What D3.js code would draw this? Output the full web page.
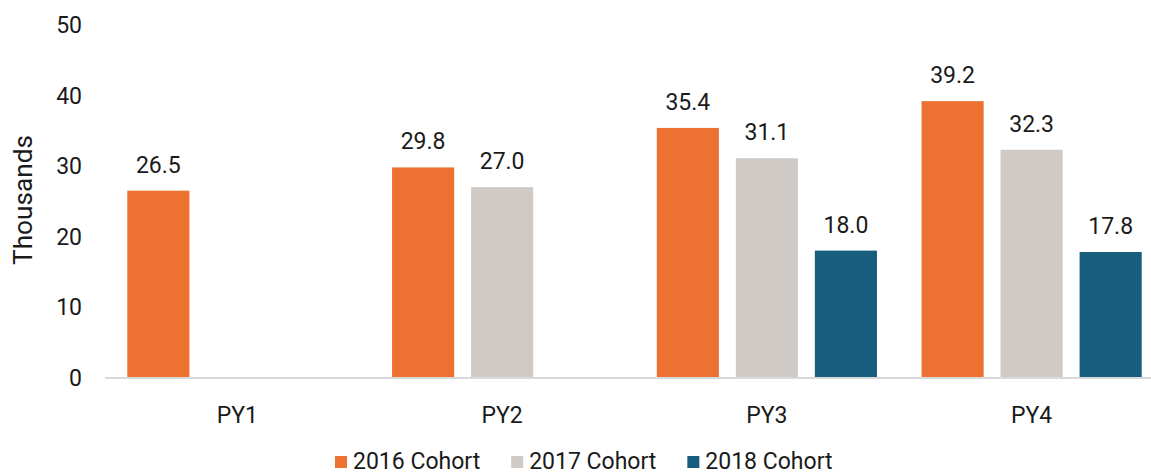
<!DOCTYPE html>
<html>
<head>
<meta charset="utf-8">
<script src="https://cdn.jsdelivr.net/npm/d3@7"></script>
<style>
  body { margin: 0; background: #fff; }
  text { font-family: Roboto, "Noto Sans", sans-serif; fill: #1a1a1a; }
</style>
</head>
<body>
<div id="chart"></div>
<script>
// data (thousands)
var categories = ["PY1", "PY2", "PY3", "PY4"];
var cohorts = ["2016 Cohort", "2017 Cohort", "2018 Cohort"];
var cohort2016 = [26.5, 29.8, 35.4, 39.2];
var cohort2017 = [null, 27.0, 31.1, 32.3];
var cohort2018 = [null, null, 18.0, 17.8];
var yTicks = [0, 10, 20, 30, 40, 50];

var colors = ["#ED7232", "#CFCAC6", "#175E7E"];

var width = 1151,
    height = 472,
    fontSize = 23;

var series = [cohort2016, cohort2017, cohort2018];

var rows = [];
categories.forEach(function(c, i) {
    cohorts.forEach(function(k, j) {
        if (series[j][i] != null) {
            rows.push({ cat: c, cohort: k, value: series[j][i], idx: j });
        }
    });
});

var svg = d3.select("#chart").append("svg")
    .attr("width", width)
    .attr("height", height);

var x0 = d3.scaleBand()
    .domain(categories)
    .range([105, 1164])
    .padding(0);

var x1 = d3.scaleBand()
    .domain(cohorts)
    .range([22.3, x0.bandwidth() - 22.3])
    .paddingInner(0.214)
    .paddingOuter(0);

var y = d3.scaleLinear()
    .domain([0, 50])
    .range([377.5, 25]);

// y tick labels, no axis line
svg.selectAll(".ytick")
    .data(yTicks)
    .enter()
    .append("text")
    .attr("class", "ytick")
    .attr("x", 82)
    .attr("y", function(d) { return y(d); })
    .attr("dy", "0.35em")
    .attr("text-anchor", "end")
    .style("font-size", fontSize + "px")
    .text(function(d) { return d; });

// axis title - sized so it spans ~130px like the original
var title = svg.append("text")
    .attr("transform", "translate(32,200) rotate(-90)")
    .attr("text-anchor", "middle")
    .style("font-size", "20px")
    .text("Thousands");
var tLen = title.node().getComputedTextLength();
title.style("font-size", (20 * 130 / tLen) + "px");

// bars
svg.selectAll(".bar")
    .data(rows)
    .enter()
    .append("rect")
    .attr("class", "bar")
    .attr("x", function(d) { return x0(d.cat) + x1(d.cohort); })
    .attr("y", function(d) { return y(d.value); })
    .attr("width", x1.bandwidth())
    .attr("height", function(d) { return y(0) - y(d.value); })
    .style("fill", function(d) { return colors[d.idx]; });

// value labels
svg.selectAll(".val")
    .data(rows)
    .enter()
    .append("text")
    .attr("class", "val")
    .attr("x", function(d) { return x0(d.cat) + x1(d.cohort) + x1.bandwidth() / 2; })
    .attr("y", function(d) { return y(d.value) - 18; })
    .attr("text-anchor", "middle")
    .style("font-size", fontSize + "px")
    .text(function(d) { return d.value.toFixed(1); });

// x axis line
svg.append("line")
    .attr("x1", 105)
    .attr("x2", 1164)
    .attr("y1", y(0) + 0.5)
    .attr("y2", y(0) + 0.5)
    .style("stroke", "#D9D9D9")
    .style("stroke-width", 2);

// category labels
svg.selectAll(".cat")
    .data(categories)
    .enter()
    .append("text")
    .attr("class", "cat")
    .attr("x", function(d) { return x0(d) + x0.bandwidth() / 2; })
    .attr("y", 423)
    .attr("text-anchor", "middle")
    .style("font-size", fontSize + "px")
    .text(function(d) { return d; });

// legend
var legend = svg.append("g").attr("transform", "translate(335,0)");
var lx = 0;
cohorts.forEach(function(k, j) {
    var g = legend.append("g").attr("transform", "translate(" + lx + ",0)");
    g.append("rect")
        .attr("x", 0)
        .attr("y", 456)
        .attr("width", 12)
        .attr("height", 12)
        .style("fill", colors[j]);
    var t = g.append("text")
        .attr("x", 18)
        .attr("y", 468.5)
        .style("font-size", fontSize + "px")
        .text(k);
    lx += 18 + t.node().getComputedTextLength() + 31;
});
</script>
</body>
</html>
